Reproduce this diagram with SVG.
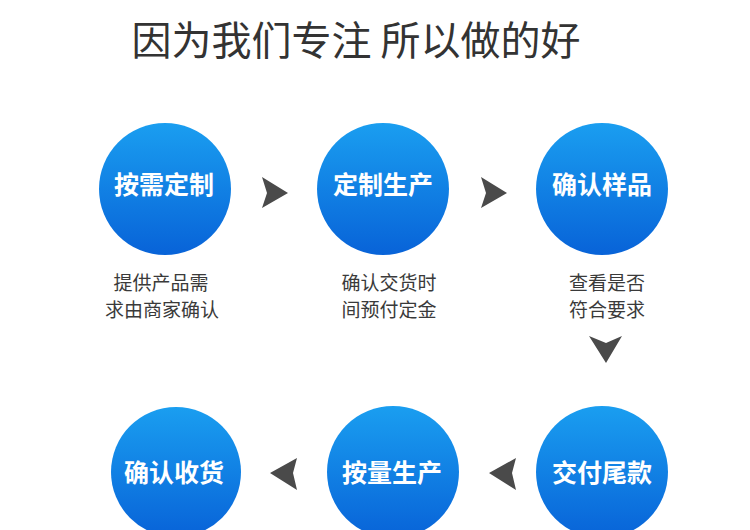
<svg xmlns="http://www.w3.org/2000/svg" width="750" height="530" viewBox="0 0 750 530">
<defs>
<linearGradient id="g" x1="0" y1="0" x2="0" y2="1">
<stop offset="0" stop-color="#1a9ef0"/>
<stop offset="1" stop-color="#0863d8"/>
</linearGradient>
<style>
.c{fill:url(#g)}
.t{font-family:"Noto Sans CJK SC","Noto Sans",sans-serif;font-weight:bold;font-size:25px;fill:#fff;text-anchor:middle}
.s{font-family:"Noto Sans CJK SC","Noto Sans",sans-serif;font-size:19px;fill:#3a3a3a;text-anchor:middle}
.a{fill:#4a4a4a}
</style>
</defs>
<rect width="750" height="530" fill="#fff"/>
<text x="356" y="55" font-family="'Noto Sans CJK SC','Noto Sans',sans-serif" font-size="40" fill="#333" text-anchor="middle">因为我们专注 所以做的好</text>
<g id="n1"><circle class="c" cx="165" cy="189" r="66"/><text class="t" x="164" y="194">按需定制</text></g>
<g id="n2"><circle class="c" cx="383" cy="189" r="66"/><text class="t" x="383" y="194">定制生产</text></g>
<g id="n3"><circle class="c" cx="602" cy="189" r="66"/><text class="t" x="602" y="194">确认样品</text></g>
<g id="n4"><circle class="c" cx="602" cy="472" r="66"/><text class="t" x="602" y="482">交付尾款</text></g>
<g id="n5"><circle class="c" cx="393" cy="472" r="66"/><text class="t" x="392" y="482">按量生产</text></g>
<g id="n6"><circle class="c" cx="176" cy="472" r="65"/><text class="t" x="174" y="482">确认收货</text></g>
<g id="labels">
<text class="s" x="161" y="290">提供产品需</text>
<text class="s" x="162" y="317">求由商家确认</text>
<text class="s" x="389" y="290">确认交货时</text>
<text class="s" x="389" y="317">间预付定金</text>
<text class="s" x="607" y="290">查看是否</text>
<text class="s" x="607" y="317">符合要求</text>
</g>
<g id="connectors">
<path class="a" d="M262,177 L288,193 L262,208 L267,193 Z"/>
<path class="a" d="M481,177 L507,193 L481,208 L486,193 Z"/>
<path class="a" d="M589,336 L606,343 L622,336 L606,363 Z"/>
<path class="a" d="M489,473 L516,458 L512,473 L516,490 Z"/>
<path class="a" d="M270,473 L297,458 L293,473 L297,490 Z"/>
</g>
</svg>
